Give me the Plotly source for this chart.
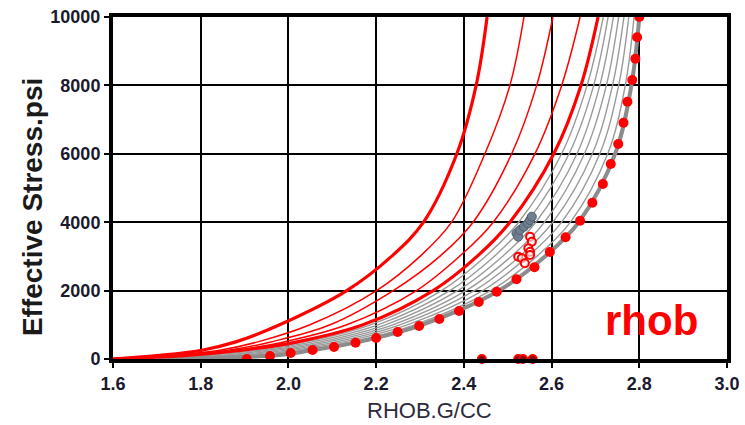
import plotly.graph_objects as go

# stress levels (psi) at which each compaction curve's density was read
stress_levels = [0, 100, 250, 500, 1000, 2000, 3000, 4000, 6000, 8000, 10000]

# red compaction curves (density g/cc at each stress level)
red_thick_1 = [1.6, 1.70, 1.80, 1.88, 1.98, 2.133, 2.235, 2.308, 2.384, 2.428, 2.453]
red_thin_2 = [1.6, 1.72, 1.84, 1.93, 2.049, 2.201, 2.30, 2.372, 2.448, 2.505, 2.537]
red_thin_3 = [1.6, 1.735, 1.86, 1.96, 2.095, 2.239, 2.345, 2.421, 2.509, 2.566, 2.603]
red_thin_4 = [1.6, 1.75, 1.875, 1.99, 2.133, 2.292, 2.39, 2.467, 2.562, 2.623, 2.665]
red_thick_5 = [1.6, 1.76, 1.89, 2.02, 2.17, 2.33, 2.43, 2.505, 2.605, 2.667, 2.706]

# gray compaction curves
gray_1 = [1.6, 1.786, 1.91, 2.038, 2.187, 2.349, 2.449, 2.525, 2.623, 2.681, 2.718]
gray_2 = [1.6, 1.811, 1.93, 2.055, 2.204, 2.368, 2.469, 2.544, 2.64, 2.696, 2.729]
gray_3 = [1.6, 1.837, 1.95, 2.073, 2.221, 2.386, 2.488, 2.564, 2.658, 2.71, 2.741]
gray_4 = [1.6, 1.863, 1.97, 2.09, 2.238, 2.405, 2.508, 2.584, 2.675, 2.725, 2.753]
gray_5 = [1.6, 1.888, 1.99, 2.108, 2.254, 2.424, 2.527, 2.603, 2.693, 2.739, 2.765]
gray_6 = [1.6, 1.914, 2.01, 2.125, 2.271, 2.443, 2.546, 2.623, 2.71, 2.753, 2.776]
gray_7 = [1.6, 1.939, 2.03, 2.143, 2.288, 2.461, 2.566, 2.643, 2.728, 2.768, 2.788]
gray_envelope = [1.6, 1.965, 2.05, 2.16, 2.305, 2.48, 2.585, 2.662, 2.745, 2.782, 2.8]

# red dotted normal-compaction trend
dot_density = [1.905, 1.958, 2.005, 2.055, 2.104, 2.153, 2.2, 2.249, 2.298, 2.344, 2.389,
               2.434, 2.475, 2.52, 2.561, 2.596, 2.632, 2.665, 2.693, 2.717, 2.735,
               2.752, 2.764, 2.773, 2.784, 2.791, 2.795, 2.8]
dot_stress = [0, 88, 175, 263, 351, 477, 614, 789, 965, 1170, 1404, 1667, 1968, 2330,
              2681, 3129, 3558, 4044, 4570, 5117, 5702, 6287, 6909, 7523, 8158, 8781,
              9406, 10000]

# measured points
gray_pts_rho = [2.520, 2.524, 2.528, 2.537, 2.546, 2.551, 2.555]
gray_pts_stress = [3675, 3576, 3772, 3868, 3968, 4064, 4161]
red_pts_rho = [2.551, 2.555, 2.547, 2.551, 2.524, 2.532, 2.539, 2.551]
red_pts_stress = [3576, 3430, 3237, 3137, 2991, 2944, 2798, 3041]
base_pts_rho = [2.441, 2.524, 2.535, 2.557]
base_pts_stress = [0, 0, 0, 0]

x_ticks = [1.6, 1.8, 2.0, 2.2, 2.4, 2.6, 2.8, 3.0]
y_ticks = [0, 2000, 4000, 6000, 8000, 10000]
y_tick_text = ["0", "2000", "4000", "6000", "8000", "10000"]

fig = go.Figure()

for g in [gray_1, gray_2, gray_3, gray_4, gray_5, gray_6, gray_7]:
    fig.add_trace(go.Scatter(x=g, y=stress_levels, mode="lines", line_shape="spline",
                             line=dict(color="#9a9a9a", width=1.4), hoverinfo="skip"))
fig.add_trace(go.Scatter(x=gray_envelope, y=stress_levels, mode="lines", line_shape="spline",
                         line=dict(color="#8c8c8c", width=4), hoverinfo="skip"))

for r, w in [(red_thin_2, 1.5), (red_thin_3, 1.5), (red_thin_4, 1.5),
             (red_thick_1, 3.2), (red_thick_5, 3.2)]:
    fig.add_trace(go.Scatter(x=r, y=stress_levels, mode="lines", line_shape="spline",
                             line=dict(color="#ff0000", width=w), hoverinfo="skip"))

fig.add_trace(go.Scatter(x=dot_density, y=dot_stress, mode="markers",
                         marker=dict(color="#ff0000", size=10, line=dict(width=0))))

fig.add_trace(go.Scatter(x=red_pts_rho, y=red_pts_stress, mode="markers",
                         marker=dict(color="rgba(255,255,255,0.6)", size=8,
                                     line=dict(color="#ff0000", width=2))))
fig.add_trace(go.Scatter(x=gray_pts_rho, y=gray_pts_stress, mode="markers",
                         marker=dict(color="#6f7f90", size=9,
                                     line=dict(color="#4f5f70", width=1))))
fig.add_trace(go.Scatter(x=base_pts_rho, y=base_pts_stress, mode="markers", cliponaxis=False,
                         marker=dict(color="#7a1010", size=8,
                                     line=dict(color="#ff0000", width=2))))

fig.add_annotation(x=2.827, y=1140, text="<b>rhob</b>", showarrow=False,
                   font=dict(family="Liberation Sans", size=42, color="#ff0000"),
                   xanchor="center", yanchor="middle")

# axis titles
fig.add_annotation(xref="paper", yref="paper", x=0.516, y=-0.152,
                   text="RHOB.G/CC", showarrow=False,
                   font=dict(family="Liberation Sans", size=22, color="#2b2b3b"),
                   xanchor="center", yanchor="middle")
fig.add_annotation(xref="paper", yref="paper", x=-0.132, y=0.444,
                   text="<b>Effective Stress.psi</b>", showarrow=False, textangle=-90,
                   font=dict(family="Liberation Sans", size=28, color="#1a1a1a"),
                   xanchor="center", yanchor="middle")

axis_common = dict(showgrid=True, gridcolor="#000000", gridwidth=1.8,
                   showline=True, linecolor="#000000", linewidth=4, mirror=True,
                   ticks="outside", ticklen=5, tickwidth=2, tickcolor="#000000",
                   zeroline=False, automargin=False, ticklabeloverflow="allow",
                   tickfont=dict(family="Liberation Sans", size=18, color="#1a1a2e",
                                 weight="bold"))

fig.update_layout(
    width=745, height=425,
    margin=dict(l=113, r=18, t=17, b=66),
    paper_bgcolor="white", plot_bgcolor="white",
    showlegend=False,
    xaxis=dict(range=[1.6, 3.0], tickvals=x_ticks, tickformat=".1f", **axis_common),
    yaxis=dict(range=[0, 10000], tickvals=y_ticks, ticktext=y_tick_text, **axis_common),
)

fig.write_html("out.html", config={"displayModeBar": False},
               post_script="document.body.style.margin='0';document.body.style.overflow='hidden';")
